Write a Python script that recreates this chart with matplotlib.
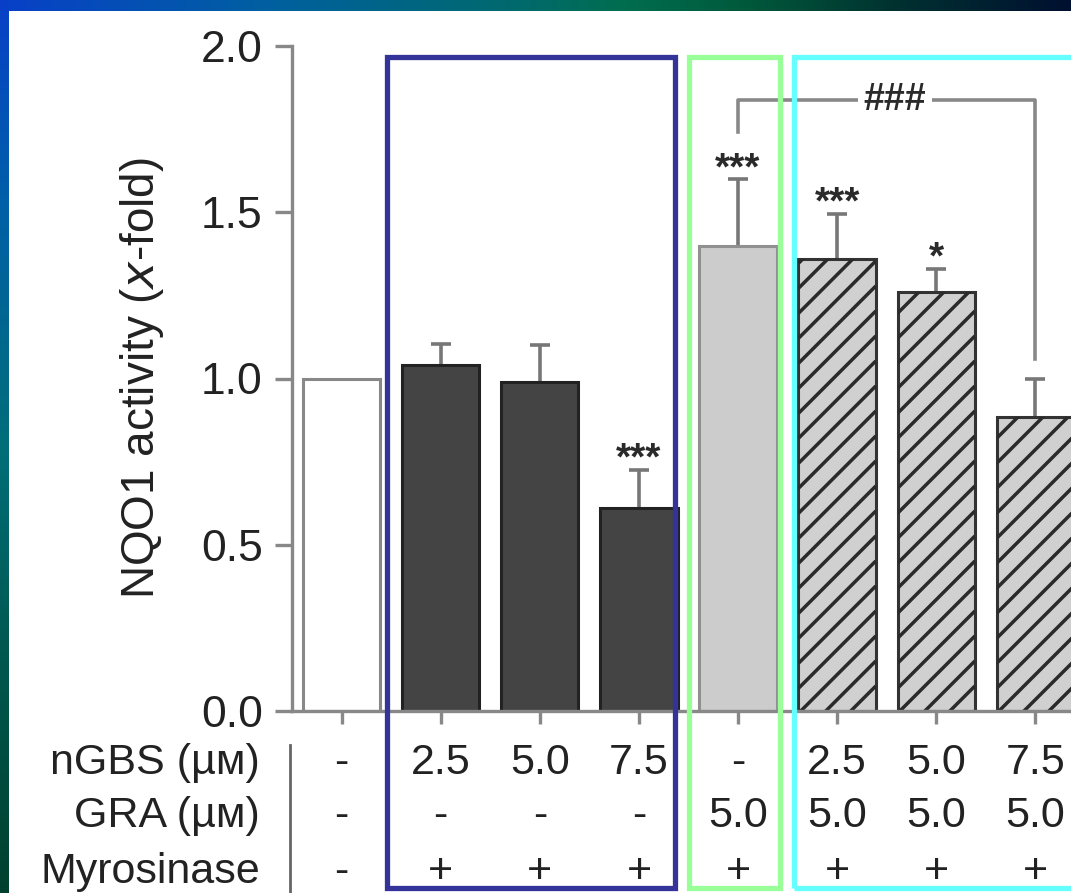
import numpy as np
import matplotlib
matplotlib.use("Agg")
import matplotlib.pyplot as plt
from matplotlib.patches import Rectangle
from matplotlib.transforms import blended_transform_factory

plt.rcParams['font.family'] = ['Liberation Sans', 'DejaVu Sans']

# data
means = [1.00, 1.04, 0.99, 0.61, 1.40, 1.36, 1.26, 0.885]
errs = [0.0, 0.065, 0.11, 0.115, 0.20, 0.135, 0.07, 0.115]
sig = ['', '', '', '***', '***', '***', '*', '']
ngbs = ['-', '2.5', '5.0', '7.5', '-', '2.5', '5.0', '7.5']
gra = ['-', '-', '-', '-', '5.0', '5.0', '5.0', '5.0']
myro = ['-', '+', '+', '+', '+', '+', '+', '+']
row_names = ['nGBS (\u00b5\u043c)', 'GRA (\u00b5\u043c)', 'Myrosinase']

W, H = 1071, 893
fig = plt.figure(figsize=(W / 100, H / 100), dpi=100)

# gradient frame on top and left edge
bg = np.ones((H, W, 3))
top_x = [0, 270, 535, 620, 750, 900, 1070]
top_c = np.array([[8, 64, 200], [0, 96, 160], [0, 106, 104], [0, 110, 80],
                  [0, 88, 58], [0, 48, 48], [0, 16, 48]]) / 255
left_y = [0, 200, 450, 650, 892]
left_c = np.array([[8, 64, 200], [0, 96, 168], [0, 110, 120],
                   [0, 88, 80], [0, 64, 46]]) / 255
for ch in range(3):
    bg[:11, :, ch] = np.interp(np.arange(W), top_x, top_c[:, ch])
    bg[11:, :9, ch] = np.interp(np.arange(11, H), left_y, left_c[:, ch])[:, None]
bgax = fig.add_axes([0, 0, 1, 1], zorder=-10)
bgax.imshow(bg, aspect='auto', interpolation='nearest')
bgax.axis('off')

ax = fig.add_axes([292 / W, 1 - 711 / H, (W - 292) / W, (711 - 46) / H])
ax.set_facecolor('none')
x = np.arange(len(means))

faces = ['white', '#444444', '#444444', '#444444', '#cccccc', '#d0d0d0', '#d0d0d0', '#d0d0d0']
edges = ['#888888', '#222222', '#222222', '#222222', '#909090', '#333333', '#333333', '#333333']
bars = ax.bar(x, means, width=0.78, color=faces, edgecolor=edges, linewidth=2.2, zorder=2)

ax.set_xlim(-0.501, 7.36)
ax.set_ylim(0, 2.0)

# sparse diagonal hatching on the last three bars
p0 = ax.transData.transform((0, 0))
p1 = ax.transData.transform((1, 1))
sx, sy = p1 - p0
for b in list(bars)[5:]:
    xl = b.get_x()
    xr = xl + b.get_width()
    hpx = b.get_height() * sy
    wpx = (xr - xl) * sx
    for c in np.arange(-wpx, hpx + 25, 25):
        xs = np.array([xl, xr])
        ys = ((xs - xl) * sx + c) / sy
        ln, = ax.plot(xs, ys, color='#2a2a2a', lw=2.5, zorder=2.5, solid_capstyle='butt')
        ln.set_clip_path(b)

mask = np.array(errs) > 0
eb = ax.errorbar(x[mask], np.array(means)[mask],
                 yerr=[np.zeros(mask.sum()), np.array(errs)[mask]],
                 fmt='none', ecolor='#777777', elinewidth=2.6, capsize=7.2, capthick=2.6,
                 zorder=1.8)
eb[1][0].set_visible(False)  # no cap at the bar top

for i in range(len(means)):
    if sig[i]:
        ax.text(x[i], means[i] + errs[i], sig[i], ha='center', va='baseline',
                fontsize=28, fontweight='bold', color='#2a2a2a', zorder=5)

# bracket between GRA alone and GRA + 7.5 nGBS
top = 1.838
ax.plot([4, 4, 7, 7], [means[4] + errs[4] + 0.14, top, top, means[7] + errs[7] + 0.06],
        color='#888888', lw=2.6, clip_on=False, zorder=3)
ax.text(5.58, top, '###', ha='center', va='center', fontsize=27, fontweight='bold',
        color='#2a2a2a', zorder=4, bbox=dict(facecolor='white', edgecolor='none', pad=4))

for s in ['top', 'right']:
    ax.spines[s].set_visible(False)
for s in ['left', 'bottom']:
    ax.spines[s].set_color('#888888')
    ax.spines[s].set_linewidth(2.4)
ax.set_yticks([0, 0.5, 1.0, 1.5, 2.0])
ax.set_yticklabels(['0.0', '0.5', '1.0', '1.5', '2.0'])
ax.tick_params(axis='y', length=12, width=2.4, color='#888888', labelsize=32,
               labelcolor='#222222', pad=9)
ax.set_xticks(x)
ax.set_xticklabels([''] * len(x))
ax.tick_params(axis='x', length=9.5, width=2.4, color='#888888')
ax.set_ylabel('NQO1 activity ($\\mathit{x}$-fold)', fontsize=33, color='#222222')
ax.yaxis.set_label_coords(-0.162, 0.5)

# treatment table under the axis
tr = blended_transform_factory(ax.transData, ax.transAxes)
rows_y = [-0.078, -0.158, -0.242]
for ry, name, vals in zip(rows_y, row_names, [ngbs, gra, myro]):
    ax.text(-0.041, ry, name, transform=ax.transAxes, ha='right', va='center',
            fontsize=31, color='#222222', clip_on=False)
    for i, v in enumerate(vals):
        ax.text(x[i], ry, v, transform=tr, ha='center', va='center',
                fontsize=31, color='#222222', clip_on=False)
ax.plot([-0.003, -0.003], [-0.051, -0.28], transform=ax.transAxes, color='#666666',
        lw=2, clip_on=False)

# coloured group frames
ftr = blended_transform_factory(ax.transData, fig.transFigure)
for x0, x1, col in [(0.462, 3.362, '#333399'), (3.508, 4.426, '#99ff99'), (4.567, 7.9, '#66ffff')]:
    ax.add_patch(Rectangle((x0, 0.0056), x1 - x0, 0.9305, transform=ftr, fill=False,
                           edgecolor=col, lw=3.8, clip_on=False, zorder=6))

fig.savefig('out.png', dpi=100)
